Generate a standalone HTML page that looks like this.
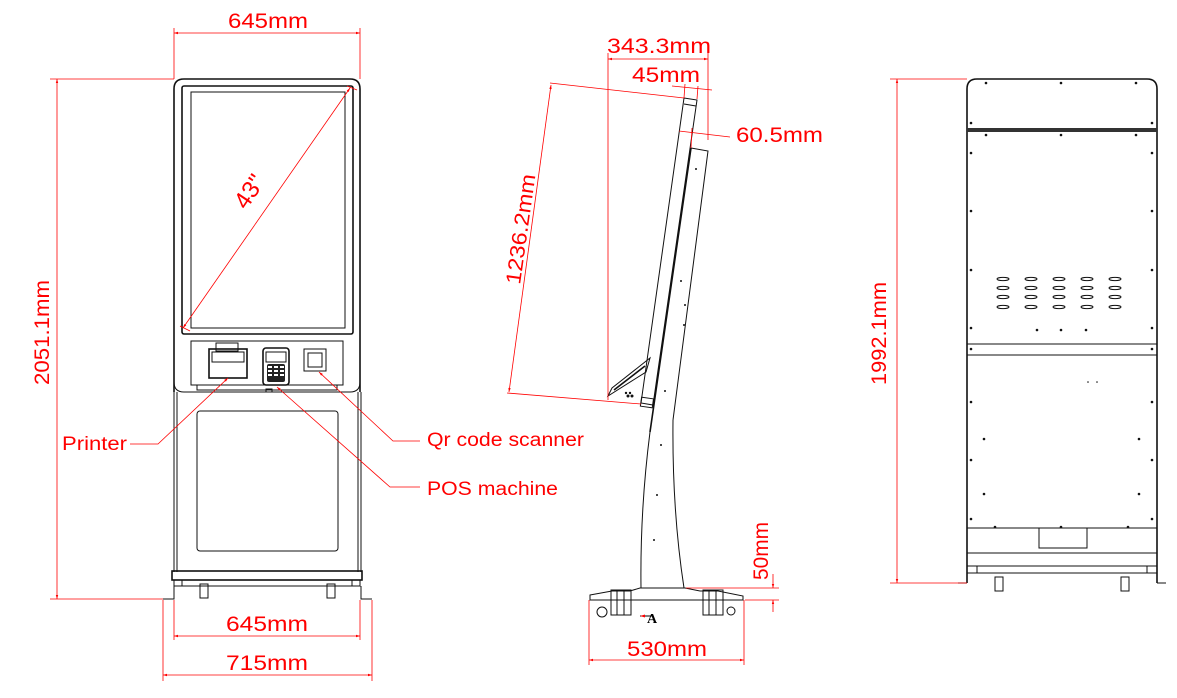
<!DOCTYPE html>
<html><head><meta charset="utf-8"><style>
html,body{margin:0;padding:0;background:#fff;}
svg{display:block}
.r{stroke:#f00;stroke-width:0.8;fill:none}
.k{stroke:#111;stroke-width:1;fill:none}
.k2{stroke:#111;stroke-width:1.6;fill:none}
.t{fill:#f00;font-family:"Liberation Sans",sans-serif;font-size:21px}
.d{fill:#111}
</style></head><body>
<svg width="1177" height="698" viewBox="0 0 1177 698" xmlns="http://www.w3.org/2000/svg">
<defs>
<marker id="a" viewBox="0 0 10 10" refX="10" refY="5" markerWidth="7" markerHeight="5" orient="auto-start-reverse"><path d="M0,2 L10,5 L0,8z" fill="#f00"/></marker>
</defs>

<!-- ===== FRONT VIEW ===== -->
<path class="k2" d="M174,392 V89 Q174,79 184,79 H350 Q360,79 360,89 V392"/>
<path class="k" d="M174,382 Q174,392 184,392 H350 Q360,392 360,382"/>
<rect class="k2" x="182" y="86" width="171" height="248" rx="2"/>
<rect class="k" x="191" y="92" width="154" height="236"/>
<rect class="k" x="191" y="341" width="152" height="44"/>
<rect class="k" x="197" y="385" width="140" height="5"/>
<rect class="k" x="216" y="343" width="22" height="8"/>
<rect class="k2" x="209" y="349" width="38" height="29"/>
<rect class="k" x="212" y="352" width="32" height="10"/>
<rect class="k2" x="263" y="348" width="26" height="37" rx="3"/>
<rect class="k" x="266" y="352" width="20" height="10"/>
<g class="d"><rect x="267" y="364" width="18" height="18" rx="2" fill="#222"/></g>
<g fill="#fff"><rect x="268" y="366" width="4" height="2"/><rect x="274" y="366" width="4" height="2"/><rect x="280" y="366" width="4" height="2"/><rect x="268" y="370" width="4" height="2"/><rect x="274" y="370" width="4" height="2"/><rect x="280" y="370" width="4" height="2"/><rect x="268" y="374" width="4" height="2"/><rect x="274" y="374" width="4" height="2"/><rect x="280" y="374" width="4" height="2"/></g>
<rect class="k" x="266" y="389" width="6" height="3"/>
<rect class="k" x="304" y="349" width="22" height="22"/>
<rect class="k" x="308" y="353" width="14" height="14"/>
<path class="k" d="M174,392 V572 M361,392 V572"/>
<path class="k" d="M177,392 V572 M358,392 V572"/>
<rect class="k" x="197" y="411" width="141" height="140" rx="3"/>
<rect class="k2" x="172" y="571" width="190" height="9"/>
<path class="k" d="M174,580 V586 H182 V580 M360,580 V586 H352 V580 M182,586 H352"/>
<path class="k" d="M163,599 H174 V586 M372,599 H361 V586"/>
<rect class="k" x="200" y="584" width="8" height="14"/>
<rect class="k" x="327" y="584" width="8" height="14"/>

<!-- front dims -->
<line class="r" x1="174" y1="28" x2="174" y2="79"/><line class="r" x1="360" y1="28" x2="360" y2="79"/>
<line class="r" x1="174" y1="33" x2="360" y2="33" marker-start="url(#a)" marker-end="url(#a)"/>
<text class="t" x="228" y="28" textLength="80" lengthAdjust="spacingAndGlyphs">645mm</text>
<line class="r" x1="50" y1="79" x2="174" y2="79"/><line class="r" x1="50" y1="599" x2="163" y2="599"/>
<line class="r" x1="57" y1="79" x2="57" y2="599" marker-start="url(#a)" marker-end="url(#a)"/>
<text class="t" transform="translate(49,385) rotate(-90)" textLength="105" lengthAdjust="spacingAndGlyphs">2051.1mm</text>
<line class="r" x1="183" y1="328" x2="350" y2="88" marker-start="url(#a)" marker-end="url(#a)"/>
<line class="r" x1="180" y1="326" x2="190" y2="331"/><line class="r" x1="347" y1="86" x2="357" y2="90"/>
<text class="t" transform="translate(256,196) rotate(-56)" text-anchor="middle" style="font-size:24px">43"</text>
<line class="r" x1="163" y1="600" x2="163" y2="681"/><line class="r" x1="372" y1="600" x2="372" y2="681"/>
<line class="r" x1="174" y1="600" x2="174" y2="640"/><line class="r" x1="360" y1="600" x2="360" y2="640"/>
<line class="r" x1="174" y1="636" x2="360" y2="636" marker-start="url(#a)" marker-end="url(#a)"/>
<text class="t" x="226" y="631" textLength="82" lengthAdjust="spacingAndGlyphs">645mm</text>
<line class="r" x1="163" y1="675" x2="372" y2="675" marker-start="url(#a)" marker-end="url(#a)"/>
<text class="t" x="226" y="670" textLength="82" lengthAdjust="spacingAndGlyphs">715mm</text>
<polyline class="r" points="130,444 158,444 228,378" marker-end="url(#a)"/>
<text class="t" x="62" y="450" textLength="65" lengthAdjust="spacingAndGlyphs" style="font-size:19px">Printer</text>
<polyline class="r" points="420,441 393,441 319,372" marker-end="url(#a)"/>
<text class="t" x="427" y="446" textLength="157" lengthAdjust="spacingAndGlyphs" style="font-size:19px">Qr code scanner</text>
<polyline class="r" points="420,487 390,487 277,387" marker-end="url(#a)"/>
<text class="t" x="427" y="495" textLength="131" lengthAdjust="spacingAndGlyphs" style="font-size:19px">POS machine</text>

<!-- ===== SIDE VIEW ===== -->
<path class="k" d="M684,98 L697,100 L653,405 L641,403 Z"/>
<path class="k" d="M684,104 L696,106"/>
<path class="k2" d="M691,148 L650,432"/>
<path class="k" d="M691,148 L708,151 L673,420"/>
<path class="k" d="M650,432 Q640,510 641,588 M673,420 Q672,510 684,588"/>
<rect class="k" x="641" y="398" width="12" height="9" transform="rotate(8 647 402)"/>
<path class="k" d="M608,396 L612,388 L650,358 L646,372 Z"/>
<path class="k2" d="M614,390 L645,366"/>
<g class="d"><circle cx="628" cy="396" r="1.5"/><circle cx="632" cy="396" r="1.5"/><circle cx="630" cy="393" r="1.2"/><circle cx="626" cy="393" r="1.2"/></g>
<g class="d"><circle cx="696" cy="169" r="1"/><circle cx="681" cy="281" r="1"/><circle cx="665" cy="391" r="1"/><circle cx="661" cy="445" r="1"/><circle cx="657" cy="495" r="1"/><circle cx="654" cy="540" r="1"/><circle cx="685" cy="305" r="1"/><circle cx="684" cy="325" r="1"/></g>
<path class="k" d="M590,595 L612,591 L630,591 L640,588 H685 L700,591 L718,591 L743,596 L743,600 H590 Z"/>
<path class="k" d="M612,600 H728"/>
<rect class="k" x="611" y="590" width="20" height="25"/><line class="k" x1="617" y1="590" x2="617" y2="615"/><line class="k" x1="624" y1="590" x2="624" y2="615"/>
<rect class="k" x="703" y="590" width="20" height="25"/><line class="k" x1="709" y1="590" x2="709" y2="615"/><line class="k" x1="716" y1="590" x2="716" y2="615"/>
<circle class="k" cx="602" cy="612" r="5"/><circle class="k" cx="731" cy="611" r="4"/>
<line x1="640" y1="616" x2="652" y2="616" stroke="#000" stroke-width="1" marker-start="url(#a)"/>
<text x="647" y="623" style="font-family:'Liberation Serif',serif;font-weight:bold;font-size:14px">A</text>
<line class="r" x1="608" y1="53" x2="608" y2="400"/><line class="r" x1="708" y1="53" x2="708" y2="140"/>
<line class="r" x1="608" y1="59" x2="708" y2="59" marker-start="url(#a)" marker-end="url(#a)"/>
<text class="t" x="607" y="53" textLength="104" lengthAdjust="spacingAndGlyphs">343.3mm</text>
<text class="t" x="632" y="82" textLength="68" lengthAdjust="spacingAndGlyphs">45mm</text>
<line class="r" x1="672" y1="86" x2="712" y2="90"/>
<line class="r" x1="685" y1="84" x2="684" y2="98"/><line class="r" x1="698" y1="86" x2="697" y2="99"/>
<line class="r" x1="679" y1="131" x2="730" y2="137"/>
<line class="r" x1="692" y1="128" x2="691" y2="148"/>
<text class="t" x="736" y="142" textLength="87" lengthAdjust="spacingAndGlyphs">60.5mm</text>
<line class="r" x1="550" y1="83" x2="684" y2="98"/>
<line class="r" x1="507" y1="393" x2="641" y2="404"/>
<line class="r" x1="551" y1="85" x2="509" y2="392" marker-start="url(#a)" marker-end="url(#a)"/>
<text class="t" transform="translate(520,285) rotate(-82)" textLength="111" lengthAdjust="spacingAndGlyphs">1236.2mm</text>
<line class="r" x1="686" y1="588" x2="779" y2="588"/><line class="r" x1="745" y1="600" x2="779" y2="600"/>
<line class="r" x1="773" y1="574" x2="773" y2="588" marker-end="url(#a)"/>
<line class="r" x1="773" y1="612" x2="773" y2="600" marker-end="url(#a)"/>
<text class="t" transform="translate(768,580) rotate(-90)" textLength="58" lengthAdjust="spacingAndGlyphs">50mm</text>
<line class="r" x1="589" y1="600" x2="589" y2="665"/><line class="r" x1="744" y1="600" x2="744" y2="665"/>
<line class="r" x1="589" y1="660" x2="744" y2="660" marker-start="url(#a)" marker-end="url(#a)"/>
<text class="t" x="627" y="656" textLength="80" lengthAdjust="spacingAndGlyphs">530mm</text>

<!-- ===== BACK VIEW ===== -->
<path class="k2" d="M967,583 V89 Q967,79 977,79 H1147 Q1157,79 1157,89 V583"/>
<rect x="967" y="128" width="190" height="4" fill="#333"/>
<line class="k" x1="967" y1="344" x2="1157" y2="344"/><line class="k" x1="967" y1="355" x2="1157" y2="355"/>
<line class="k" x1="967" y1="528" x2="1157" y2="528"/>
<rect class="k" x="1039" y="528" width="48" height="20"/>
<line class="k" x1="967" y1="553" x2="1157" y2="553"/>
<line class="k" x1="967" y1="566" x2="1157" y2="566"/>
<path class="k" d="M967,573 H977 V566 M1157,573 H1147 V566 M977,573 H1147"/>
<path class="k" d="M958,583 H967 M1157,583 H1166"/>
<rect class="k" x="995" y="577" width="8" height="14"/><rect class="k" x="1121" y="577" width="8" height="14"/>
<g class="d">
<circle cx="986" cy="83" r="1.3"/><circle cx="1061" cy="83" r="1.3"/><circle cx="1136" cy="83" r="1.3"/>
<circle cx="971" cy="123" r="1.3"/><circle cx="1152" cy="123" r="1.3"/>
<circle cx="986" cy="135" r="1.3"/><circle cx="1061" cy="135" r="1.3"/><circle cx="1136" cy="135" r="1.3"/>
<circle cx="971" cy="153" r="1.3"/><circle cx="1152" cy="153" r="1.3"/>
<circle cx="971" cy="211" r="1.3"/><circle cx="1152" cy="211" r="1.3"/>
<circle cx="971" cy="270" r="1.3"/><circle cx="1152" cy="270" r="1.3"/>
<circle cx="971" cy="328" r="1.3"/><circle cx="1152" cy="328" r="1.3"/>
<circle cx="1037" cy="330" r="1.3"/><circle cx="1061" cy="330" r="1.3"/><circle cx="1086" cy="330" r="1.3"/>
<circle cx="971" cy="349" r="1.3"/><circle cx="1152" cy="349" r="1.3"/>
<circle cx="971" cy="402" r="1.3"/><circle cx="1152" cy="402" r="1.3"/>
<circle cx="984" cy="439" r="1.3"/><circle cx="1139" cy="439" r="1.3"/>
<circle cx="971" cy="460" r="1.3"/><circle cx="1152" cy="460" r="1.3"/>
<circle cx="984" cy="494" r="1.3"/><circle cx="1139" cy="494" r="1.3"/>
<circle cx="971" cy="519" r="1.3"/><circle cx="1152" cy="519" r="1.3"/>
<circle cx="995" cy="527" r="1.3"/><circle cx="1061" cy="527" r="1.3"/><circle cx="1128" cy="527" r="1.3"/>
<circle cx="1088" cy="382" r="0.8"/><circle cx="1097" cy="382" r="0.8"/>
</g>
<g class="k">
<ellipse cx="1003" cy="279" rx="6" ry="1.6"/><ellipse cx="1031" cy="279" rx="6" ry="1.6"/><ellipse cx="1059" cy="279" rx="6" ry="1.6"/><ellipse cx="1087" cy="279" rx="6" ry="1.6"/><ellipse cx="1115" cy="279" rx="6" ry="1.6"/>
<ellipse cx="1003" cy="288" rx="6" ry="1.6"/><ellipse cx="1031" cy="288" rx="6" ry="1.6"/><ellipse cx="1059" cy="288" rx="6" ry="1.6"/><ellipse cx="1087" cy="288" rx="6" ry="1.6"/><ellipse cx="1115" cy="288" rx="6" ry="1.6"/>
<ellipse cx="1003" cy="297" rx="6" ry="1.6"/><ellipse cx="1031" cy="297" rx="6" ry="1.6"/><ellipse cx="1059" cy="297" rx="6" ry="1.6"/><ellipse cx="1087" cy="297" rx="6" ry="1.6"/><ellipse cx="1115" cy="297" rx="6" ry="1.6"/>
<ellipse cx="1003" cy="307" rx="6" ry="1.6"/><ellipse cx="1031" cy="307" rx="6" ry="1.6"/><ellipse cx="1059" cy="307" rx="6" ry="1.6"/><ellipse cx="1087" cy="307" rx="6" ry="1.6"/><ellipse cx="1115" cy="307" rx="6" ry="1.6"/>
</g>
<line class="r" x1="890" y1="79" x2="967" y2="79"/><line class="r" x1="890" y1="583" x2="967" y2="583"/>
<line class="r" x1="897" y1="79" x2="897" y2="583" marker-start="url(#a)" marker-end="url(#a)"/>
<text class="t" transform="translate(886,385) rotate(-90)" textLength="103" lengthAdjust="spacingAndGlyphs">1992.1mm</text>
</svg>
</body></html>
